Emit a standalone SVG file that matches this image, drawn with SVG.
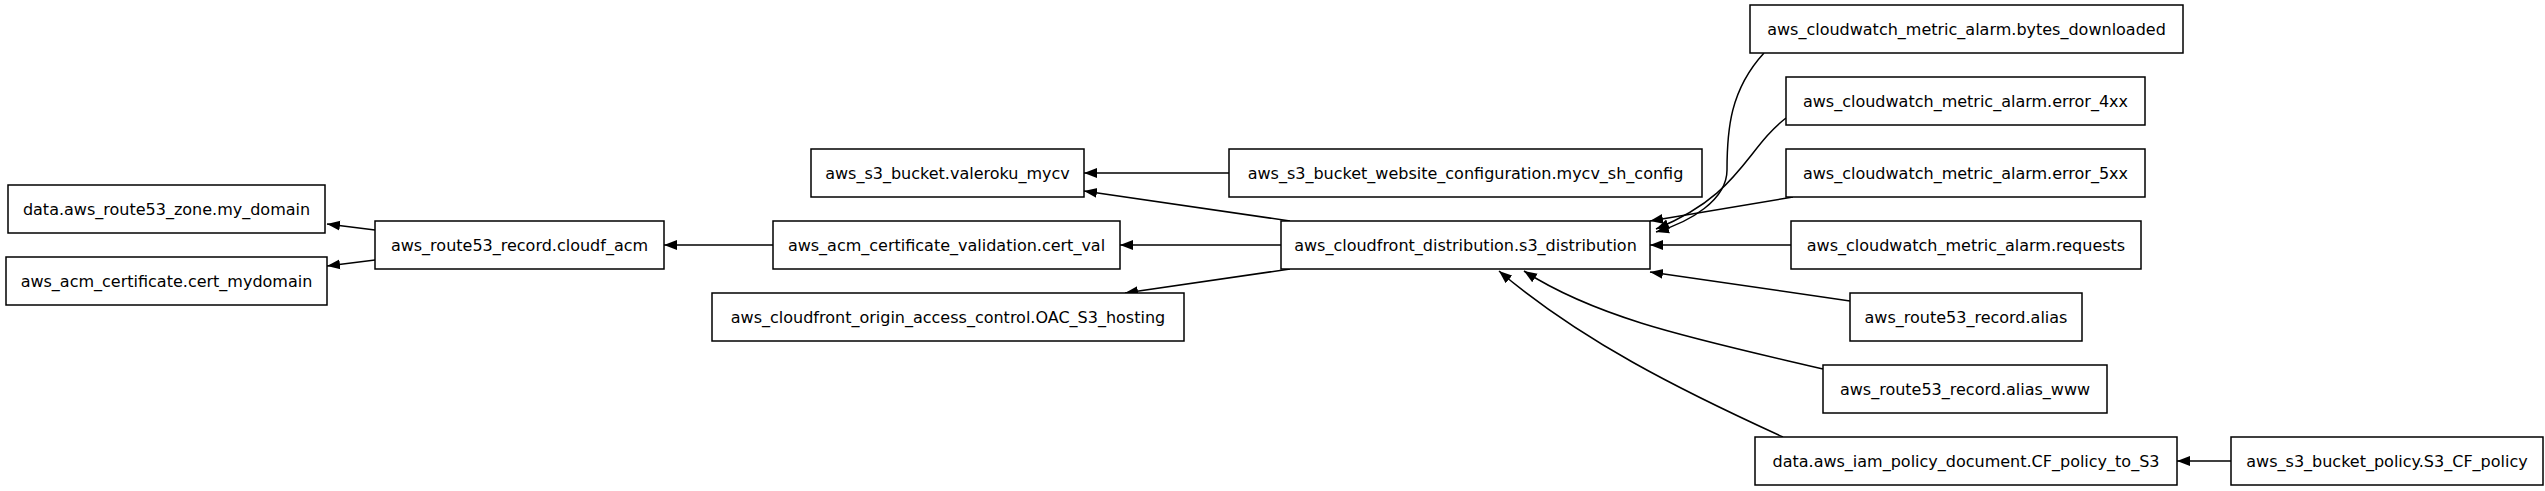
<svg xmlns="http://www.w3.org/2000/svg" width="2545" height="491" viewBox="0 0 2545 491">
<style>
rect{fill:#fff;stroke:#000;stroke-width:1.5}
text{font-family:"DejaVu Sans",sans-serif;font-size:16px;text-anchor:middle;dominant-baseline:central;fill:#000}
#edges path{fill:none;stroke:#000;stroke-width:1.5}
</style>
<defs><marker id="a" markerUnits="userSpaceOnUse" markerWidth="14" markerHeight="12" refX="13" refY="6" orient="auto"><path d="M0,1 L13,6 L0,11 z" fill="#000"/></marker></defs>
<rect width="2545" height="491" style="fill:#fff;stroke:none"/>
<g id="edges">
<path d="M375,230 L327,224" marker-end="url(#a)"/>
<path d="M375,260 L327,266" marker-end="url(#a)"/>
<path d="M773,245 L664,245" marker-end="url(#a)"/>
<path d="M1281,245 L1120,245" marker-end="url(#a)"/>
<path d="M1229,173 L1084,173" marker-end="url(#a)"/>
<path d="M1290,221 L1084,191" marker-end="url(#a)"/>
<path d="M1290,269 L1125,293" marker-end="url(#a)"/>
<path d="M1764,53 C1730,90 1727,130 1727,170 C1727,200 1690,222 1656,232" marker-end="url(#a)"/>
<path d="M1786,118 C1745,150 1740,195 1656,229" marker-end="url(#a)"/>
<path d="M1793,197 L1650,221" marker-end="url(#a)"/>
<path d="M1791,245 L1650,245" marker-end="url(#a)"/>
<path d="M1850,301 L1650,272" marker-end="url(#a)"/>
<path d="M1823,369 C1700,340 1600,320 1524,271" marker-end="url(#a)"/>
<path d="M1783,437 C1680,390 1580,340 1499,271" marker-end="url(#a)"/>
<path d="M2231,461 L2177,461" marker-end="url(#a)"/>
</g>
<g id="my_domain"><rect x="8" y="185" width="317" height="48"/><text x="166.5" y="209">data.aws_route53_zone.my_domain</text></g>
<g id="cert_mydomain"><rect x="6" y="257" width="321" height="48"/><text x="166.5" y="281">aws_acm_certificate.cert_mydomain</text></g>
<g id="cloudf_acm"><rect x="375" y="221" width="289" height="48"/><text x="519.5" y="245">aws_route53_record.cloudf_acm</text></g>
<g id="cert_val"><rect x="773" y="221" width="347" height="48"/><text x="946.5" y="245">aws_acm_certificate_validation.cert_val</text></g>
<g id="valeroku"><rect x="811" y="149" width="273" height="48"/><text x="947.5" y="173">aws_s3_bucket.valeroku_mycv</text></g>
<g id="oac"><rect x="712" y="293" width="472" height="48"/><text x="948" y="317">aws_cloudfront_origin_access_control.OAC_S3_hosting</text></g>
<g id="website"><rect x="1229" y="149" width="473" height="48"/><text x="1465.5" y="173">aws_s3_bucket_website_configuration.mycv_sh_config</text></g>
<g id="dist"><rect x="1281" y="221" width="369" height="48"/><text x="1465.5" y="245">aws_cloudfront_distribution.s3_distribution</text></g>
<g id="bytes"><rect x="1750" y="5" width="433" height="48"/><text x="1966.5" y="29">aws_cloudwatch_metric_alarm.bytes_downloaded</text></g>
<g id="e4xx"><rect x="1786" y="77" width="359" height="48"/><text x="1965.5" y="101">aws_cloudwatch_metric_alarm.error_4xx</text></g>
<g id="e5xx"><rect x="1786" y="149" width="359" height="48"/><text x="1965.5" y="173">aws_cloudwatch_metric_alarm.error_5xx</text></g>
<g id="requests"><rect x="1791" y="221" width="350" height="48"/><text x="1966" y="245">aws_cloudwatch_metric_alarm.requests</text></g>
<g id="alias"><rect x="1850" y="293" width="232" height="48"/><text x="1966" y="317">aws_route53_record.alias</text></g>
<g id="alias_www"><rect x="1823" y="365" width="284" height="48"/><text x="1965" y="389">aws_route53_record.alias_www</text></g>
<g id="cf_policy"><rect x="1755" y="437" width="422" height="48"/><text x="1966" y="461">data.aws_iam_policy_document.CF_policy_to_S3</text></g>
<g id="s3_cf_policy"><rect x="2231" y="437" width="312" height="48"/><text x="2387" y="461">aws_s3_bucket_policy.S3_CF_policy</text></g>
</svg>
